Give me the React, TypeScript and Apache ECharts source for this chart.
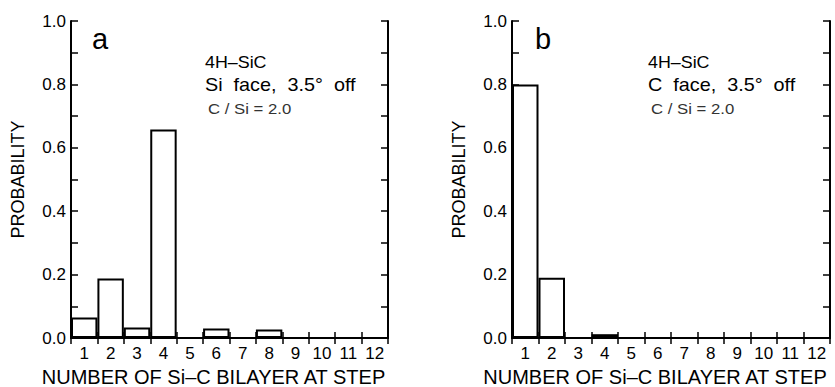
import React, { useEffect, useRef } from "react";
import * as echarts from "echarts";

const categories = ["1", "2", "3", "4", "5", "6", "7", "8", "9", "10", "11", "12"];
const siFaceValues = [0.065, 0.188, 0.033, 0.658, 0, 0.03, 0, 0.027, 0, 0, 0, 0];
const cFaceValues = [0.8, 0.19, 0, 0.012, 0, 0, 0, 0, 0, 0, 0, 0];
const yTickLabels = ["0.0", "0.2", "0.4", "0.6", "0.8", "1.0"];

const FONT = "'Liberation Sans', Arial, Helvetica, sans-serif";

export default function App() {
  const ref = useRef<HTMLDivElement>(null);
  useEffect(() => {
    if (!ref.current) return;
    const chart = echarts.init(ref.current, undefined, { renderer: "svg" });
    const axisLine = { show: true, lineStyle: { color: "#000", width: 2 } };
    const grids = [
      { left: 71, top: 21, width: 317, height: 317, containLabel: false, outerBoundsMode: "none" },
      { left: 512, top: 21, width: 318, height: 317, containLabel: false, outerBoundsMode: "none" },
    ];
    const xAxes: any[] = [];
    const yAxes: any[] = [];
    grids.forEach((_, i) => {
      xAxes.push({
        type: "category",
        gridIndex: i,
        data: categories,
        position: "bottom",
        boundaryGap: true,
        axisLine,
        axisTick: { show: true, inside: true, length: 6, interval: 0, lineStyle: { color: "#000", width: 1.5 } },
        axisLabel: { show: true, interval: 0, color: "#000", fontSize: 17, fontFamily: FONT, margin: 7 },
        splitLine: { show: false },
        name: "NUMBER OF Si\u2013C BILAYER AT STEP",
        nameLocation: "middle",
        nameGap: 28,
        nameTextStyle: { color: "#000", fontSize: 20, fontFamily: FONT, padding: [0, 32, 0, 0] },
      });
      xAxes.push({
        type: "category",
        gridIndex: i,
        data: categories,
        position: "top",
        boundaryGap: true,
        axisLine,
        axisTick: { show: true, inside: true, length: 6, interval: 0, lineStyle: { color: "#000", width: 1.5 } },
        axisLabel: { show: false },
        splitLine: { show: false },
      });
      yAxes.push({
        type: "value",
        gridIndex: i,
        min: 0,
        max: 1,
        interval: 0.2,
        position: "left",
        axisLine,
        axisTick: { show: true, inside: true, length: 7, lineStyle: { color: "#000", width: 1.5 } },
        minorTick: { show: true, splitNumber: 2, length: 7, lineStyle: { color: "#000", width: 1.5 } },
        axisLabel: {
          color: "#000",
          fontSize: 17,
          fontFamily: FONT,
          margin: 5,
          formatter: (v: number) => yTickLabels[Math.round(v / 0.2)] ?? "",
        },
        splitLine: { show: false },
        name: "PROBABILITY",
        nameLocation: "middle",
        nameGap: 44,
        nameTextStyle: { color: "#000", fontSize: 18, fontFamily: FONT },
      });
      yAxes.push({
        type: "value",
        gridIndex: i,
        min: 0,
        max: 1,
        interval: 0.2,
        position: "right",
        axisLine,
        axisTick: { show: true, inside: true, length: 7, lineStyle: { color: "#000", width: 1.5 } },
        minorTick: { show: true, splitNumber: 2, length: 7, lineStyle: { color: "#000", width: 1.5 } },
        axisLabel: { show: false },
        splitLine: { show: false },
      });
    });

    const barStyle = { color: "#fff", borderColor: "#000", borderWidth: 2 };
    const ts = (size: number, text: string, color = "#000") => ({
      fill: color,
      fontSize: size,
      fontFamily: FONT,
      text,
      verticalAlign: "middle",
      align: "left",
    });
    const panelTexts = (x: number, letter: string, face: string) => [
      { type: "text", x: x - 113, y: 39, style: ts(29, letter) },
      { type: "text", x: x, y: 62, scaleX: 1.05, style: ts(17, "4H\u2013SiC") },
      {
        type: "text",
        x: x,
        y: 85,
        scaleX: 1.1,
        style: ts(18, face + "\u00a0\u00a0face,\u00a0\u00a03.5\u00b0\u00a0\u00a0off"),
      },
      { type: "text", x: x + 3, y: 108, scaleX: 1.08, style: ts(15.5, "C / Si = 2.0", "#333") },
    ];

    chart.setOption({
      animation: false,
      backgroundColor: "#fff",
      grid: grids,
      xAxis: xAxes,
      yAxis: yAxes,
      series: [
        {
          type: "bar",
          xAxisIndex: 0,
          yAxisIndex: 0,
          data: siFaceValues,
          barCategoryGap: "0%",
          itemStyle: barStyle,
          silent: true,
        },
        {
          type: "bar",
          xAxisIndex: 2,
          yAxisIndex: 2,
          data: cFaceValues,
          barCategoryGap: "0%",
          itemStyle: barStyle,
          silent: true,
        },
      ],
      graphic: [...panelTexts(205, "a", "Si"), ...panelTexts(648, "b", "C")],
    });
    return () => chart.dispose();
  }, []);
  return (
    <div
      ref={ref}
      style={{ position: "absolute", left: 0, top: 0, width: 835, height: 387, background: "#fff" }}
    />
  );
}
